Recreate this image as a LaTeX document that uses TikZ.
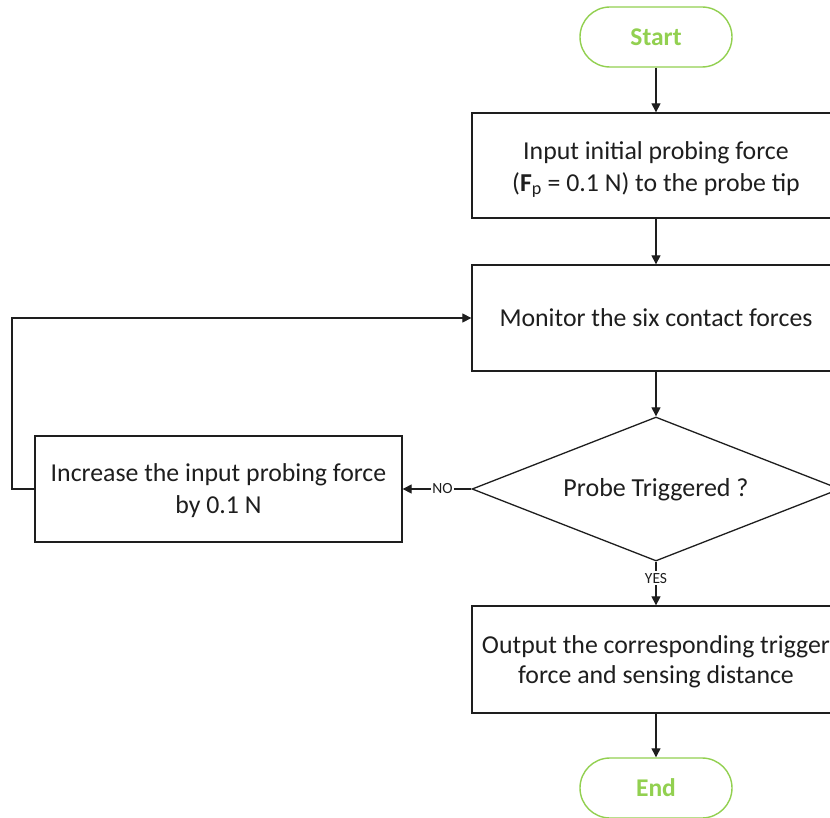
\documentclass[tikz,border=0pt]{standalone}
\usepackage{fontspec}
\setmainfont{Carlito}
\usetikzlibrary{arrows.meta,shapes.geometric}
\definecolor{termgreen}{RGB}{146,208,80}
\definecolor{ink}{RGB}{30,30,30}
\tikzset{
  procbox/.style={draw=ink, line width=1.3pt, fill=white, minimum width=368pt, minimum height=105pt, align=center, font=\fontsize{25.8}{32}\selectfont, text=ink, inner sep=0pt},
  termbox/.style={draw=termgreen, line width=1.4pt, rounded corners=30pt, minimum width=152pt, minimum height=60pt, font=\fontsize{25.5}{30}\bfseries\selectfont, text=termgreen, inner sep=0pt},
  decbox/.style={draw=ink, line width=1.3pt, diamond, aspect=2.555, minimum width=368pt, minimum height=144pt, inner sep=0pt},
  dectext/.style={font=\fontsize{26}{30}\selectfont, text=ink},
  conn/.style={draw=ink, line width=1.2pt, -{Triangle[length=9pt,width=9pt]}},
  lab/.style={fill=white, inner xsep=1pt, inner ysep=2pt, font=\fontsize{15.5}{18}\selectfont, text=ink}
}
\begin{document}
\begin{tikzpicture}[x=1pt,y=-1pt]
\useasboundingbox (0,0) rectangle (830,818);
\clip (0,0) rectangle (830,818);
\fill[white] (0,0) rectangle (830,818);
\node[termbox] (start) at (656,37) {Start};
\node[procbox] (inp) at (656,165.5) {\rule{0pt}{26pt}Input initial probing force\\(\textbf{F}\textsubscript{p} = 0.1 N) to the probe tip};
\node[procbox, minimum height=106pt] (mon) at (656,318) {Monitor the six contact forces};
\node[decbox] (dec) at (656,489) {};
\node[dectext] (dect) at (656,490) {Probe Triggered ?};
\node[procbox, minimum width=367pt, minimum height=106pt] (inc) at (218.5,489) {\rule{0pt}{21pt}Increase the input probing force\\by 0.1 N};
\node[procbox, minimum height=107pt] (out) at (656,659.5) {\rule{0pt}{23pt}Output the corresponding trigger\\[-2pt]force and sensing distance};
\node[termbox] (end) at (656,788) {End};
\coordinate (fbA) at (12,489);
\coordinate (fbB) at (12,318);
\draw[conn] (start) -- (inp);
\draw[conn] (inp) -- (mon);
\draw[conn] (mon) -- (dec.north);
\draw[conn] (dec.west) -- (inc.east) node[lab, pos=0.42]{NO};
\draw[conn] (dec.south) -- (out.north) node[lab, pos=0.38]{YES};
\draw[conn] (out) -- (end);
\draw[conn] (inc.west) -- (fbA) -- (fbB) -- (mon.west);
\end{tikzpicture}
\end{document}
